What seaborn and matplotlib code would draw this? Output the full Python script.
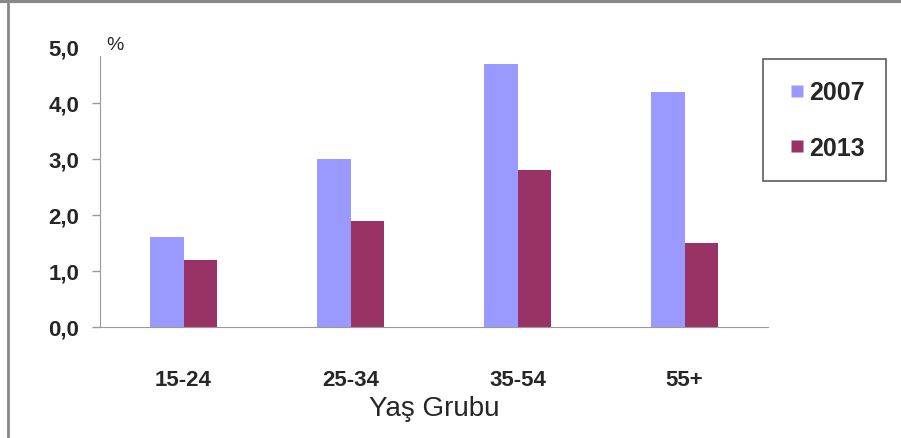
import matplotlib
matplotlib.use("Agg")
import matplotlib.pyplot as plt
import seaborn as sns
import pandas as pd
from matplotlib.lines import Line2D

groups = ["15-24", "25-34", "35-54", "55+"]
v2007 = [1.6, 3.0, 4.7, 4.2]
v2013 = [1.2, 1.9, 2.8, 1.5]
years = ["2007", "2013"]
colors = ["#9999FF", "#993366"]

df = pd.DataFrame({
    "grup": groups * 2,
    "yil": [years[0]] * 4 + [years[1]] * 4,
    "deger": v2007 + v2013,
})

sns.set_style("white")
plt.rcParams["font.family"] = ["Liberation Sans", "DejaVu Sans"]

fig = plt.figure(figsize=(9.01, 4.39), dpi=100)
ax = fig.add_axes([100 / 901, 111 / 439, 668 / 901, 280 / 439])

sns.barplot(data=df, x="grup", y="deger", hue="yil", palette=colors,
            width=0.4, ax=ax, saturation=1, edgecolor="none", legend=False)

ax.set_xlim(-0.5, 3.5)
ax.set_ylim(0, 5)
ax.set_yticks([0, 1, 2, 3, 4, 5])
ax.set_yticklabels(["0,0", "1,0", "2,0", "3,0", "4,0", "5,0"],
                   fontsize=16, fontweight="bold")
ax.set_xticks(range(4))
ax.set_xticklabels(groups, fontsize=16, fontweight="bold")
ax.tick_params(axis="y", length=6, width=1, color="#999999", pad=9, left=True)
ax.tick_params(axis="x", length=0, pad=30)
ax.yaxis.get_major_ticks()[-1].tick1line.set_visible(False)
for s in ["top", "right"]:
    ax.spines[s].set_visible(False)
ax.spines["left"].set_color("#999999")
ax.spines["bottom"].set_color("#999999")
ax.spines["left"].set_bounds(0, 4.84)
ax.set_ylabel("")
ax.set_xlabel("Yaş Grubu", fontsize=20, labelpad=4)
ax.text(115 / 901, 1 - 45 / 439, "%", transform=fig.transFigure,
        fontsize=14, ha="center", va="center")

handles = [Line2D([], [], marker="s", linestyle="none", markersize=9,
                  markerfacecolor=c, markeredgecolor="none") for c in colors]
leg = fig.legend(handles, years, loc="upper left",
                 bbox_to_anchor=(763 / 901, 1 - 60 / 439),
                 frameon=True, fancybox=False,
                 prop={"weight": "bold", "size": 18},
                 labelspacing=1.25, handletextpad=0.0, borderpad=0.85,
                 handlelength=1.0, borderaxespad=0)
leg.get_frame().set_edgecolor("#333333")
leg.get_frame().set_linewidth(1.2)

fig.add_artist(Line2D([0, 1], [1 - 1.5 / 439] * 2, color="#888888", lw=3,
                      transform=fig.transFigure))
fig.add_artist(Line2D([7.5 / 901] * 2, [0, 1], color="#888888", lw=2,
                      transform=fig.transFigure))

fig.savefig("out.png", dpi=100)
